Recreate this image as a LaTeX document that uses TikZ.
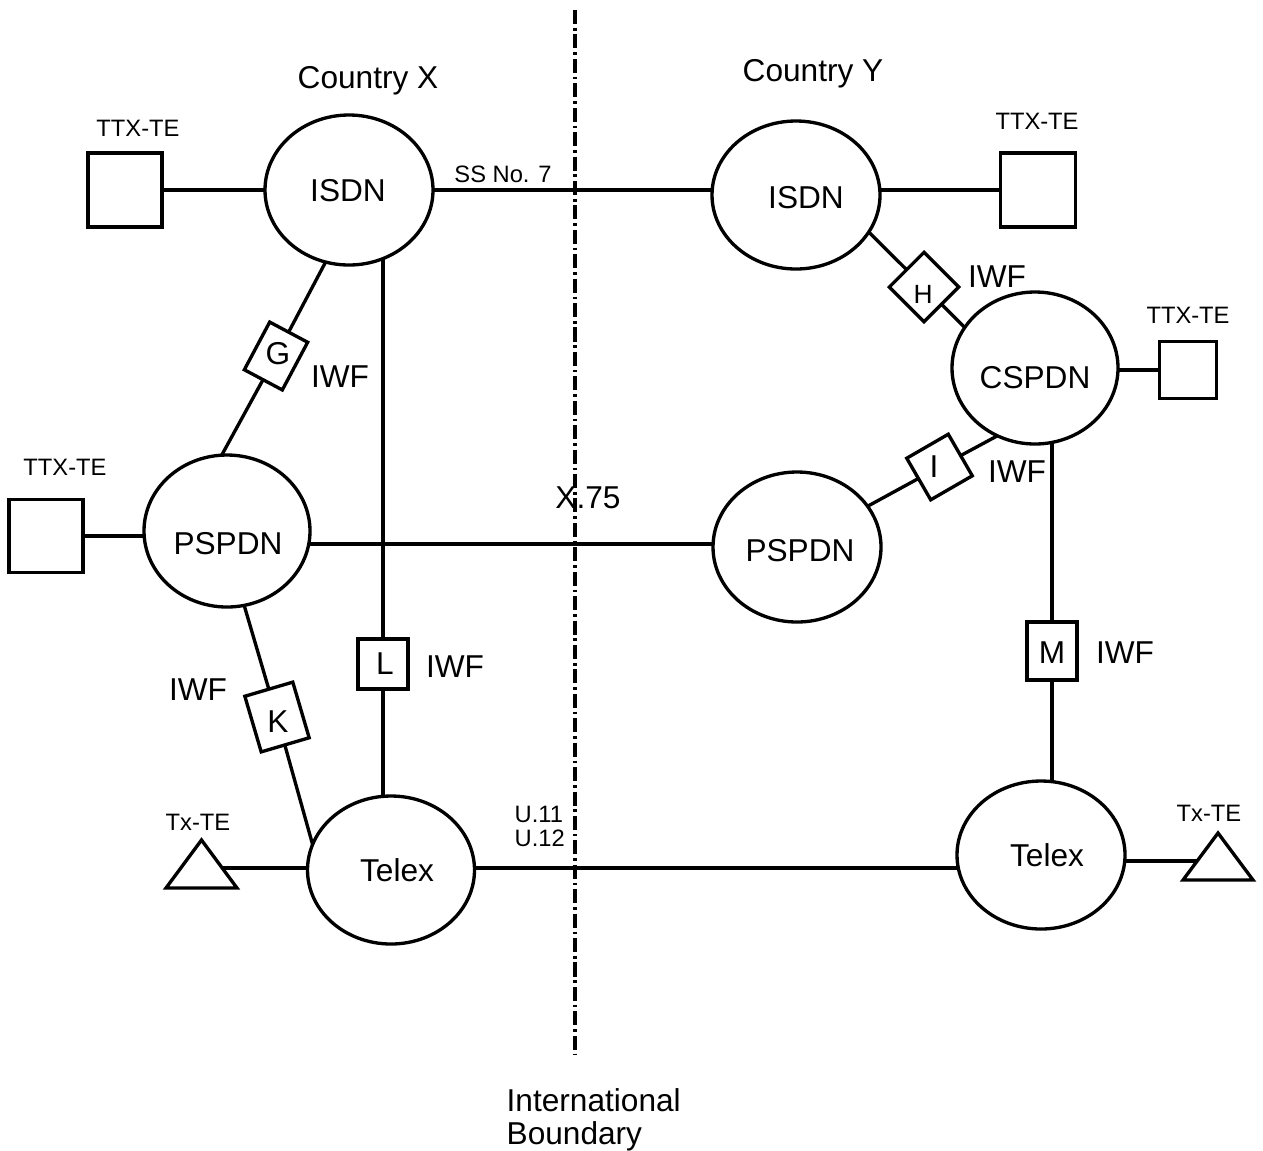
\documentclass[tikz,border=0pt]{standalone}
\usepackage{fontspec}
\setmainfont{Liberation Sans}
\usetikzlibrary{shapes.geometric,backgrounds,calc}
\begin{document}
\begin{tikzpicture}[x=0.02cm,y=-0.02cm,
  line width=1.9pt,
  net/.style 2 args={ellipse, draw, fill=white, inner sep=0pt, outer sep=0pt,
    minimum width=#1*0.02cm, minimum height=#2*0.02cm},
  term/.style 2 args={rectangle, draw, fill=white, inner sep=0pt, outer sep=0pt,
    minimum width=#1*0.02cm, minimum height=#2*0.02cm},
  tri/.style 2 args={rectangle, inner sep=0pt, outer sep=0pt,
    minimum width=#1*0.02cm, minimum height=#2*0.02cm},
  big/.style={font=\fontsize{18}{21}\selectfont, inner sep=0pt, text depth=0pt},
  mid/.style={font=\fontsize{15}{18}\selectfont, inner sep=0pt, text depth=0pt},
  small/.style={font=\fontsize{13.5}{16}\selectfont, inner sep=0pt, text depth=0pt},
  link/.style={line width=1.9pt},
  boundary/.style={line width=1.9pt, dash pattern=on 8pt off 2.2pt on 1.5pt off 2.2pt}
]
\useasboundingbox (0,0) rectangle (1263,1150);

% network clouds
\node[net={168}{150}] (isdnX) at (349,190) {};
\node[net={168}{148}] (isdnY) at (796,195) {};
\node[net={166}{152}] (cspdn) at (1035,368) {};
\node[net={166}{152}] (pspdnX) at (227,531) {};
\node[net={168}{150}] (pspdnY) at (797,547) {};
\node[net={167}{148}] (telexX) at (391,870) {};
\node[net={168}{148}] (telexY) at (1041,855) {};

\node[big] (tIsdnX) at (348,190) {ISDN};
\node[big] (tIsdnY) at (806,197) {ISDN};
\node[big] (tCspdn) at (1035,377) {CSPDN};
\node[big] (tPspdnX) at (228,543) {PSPDN};
\node[big] (tPspdnY) at (800,550) {PSPDN};
\node[big] (tTelexX) at (397,870) {Telex};
\node[big] (tTelexY) at (1047,855) {Telex};

% terminals
\node[term={74}{74}] (ttxA) at (125,190) {};
\node[term={75}{74}] (ttxB) at (1038,190) {};
\node[term={57}{57}] (ttxC) at (1188,370) {};
\node[term={74}{73}] (ttxP) at (46,536) {};
\node[small] (lA) at (138,128) {TTX-TE};
\node[small] (lB) at (1037,121) {TTX-TE};
\node[small] (lC) at (1188,315) {TTX-TE};
\node[small] (lP) at (65,467) {TTX-TE};

\node[tri={71}{48}] (txL) at (201.5,864) {};
\node[tri={70}{47}] (txR) at (1218,856.5) {};
\draw[fill=white] (txL.south west) -- (txL.north) -- (txL.south east) -- cycle;
\draw[fill=white] (txR.south west) -- (txR.north) -- (txR.south east) -- cycle;
\coordinate (txLp) at ($(txL.north)!0.583!(txL.south east)$);
\coordinate (txRp) at ($(txR.north)!0.596!(txR.south west)$);
\node[small] (lTxL) at (198,822) {Tx-TE};
\node[small] (lTxR) at (1209,813) {Tx-TE};

% interworking functions
\node[term={43}{54}, rotate=-28] (G) at (276,356) {};
\node[term={49}{49}, rotate=45] (H) at (924,287) {};
\node[term={48}{48}, rotate=30] (I) at (939.5,467) {};
\node[term={50}{58}, rotate=16.4] (K) at (277,717) {};
\node[term={50}{50}] (L) at (383,664) {};
\node[term={50}{58}] (M) at (1052,651) {};
\node[big] (tG) at (278,353) {G};
\node[mid] (tH) at (923,294) {H};
\node[big] (tI) at (934,467) {I};
\node[big] (tK) at (278,722) {K};
\node[big] (tL) at (385,664) {L};
\node[big] (tM) at (1052,653) {M};

\node[big] (iwfG) at (340,377) {IWF};
\node[big] (iwfH) at (997,277) {IWF};
\node[big] (iwfI) at (1017,472) {IWF};
\node[big] (iwfK) at (198,690) {IWF};
\node[big] (iwfL) at (455,667) {IWF};
\node[big] (iwfM) at (1125,653) {IWF};

% other labels
\node[big] (cX) at (368,77) {Country X};
\node[big] (cY) at (813,70) {Country Y};
\node[small] (ss7) at (503,174) {SS No. 7};
\node[big] (x75) at (588,498) {X.75};
\node[small, anchor=west] (u11) at (513,814) {U.11};
\node[small, anchor=west] (u12) at (513,838) {U.12};
\node[big, anchor=west] (ib1) at (505,1100) {International};
\node[big, anchor=west] (ib2) at (505,1133) {Boundary};

\coordinate (bTop) at (575,10);
\coordinate (bBot) at (575,1055);

\begin{scope}[on background layer]
  \draw[link] (ttxA.center) -- (ttxA.center -| isdnX.center);
  \draw[link] (isdnX.center) -- (isdnX.center -| isdnY.center);
  \draw[link] (ttxB.center) -- (ttxB.center -| isdnY.center);
  \draw[link] (ttxC.center) -- (ttxC.center -| cspdn.center);
  \draw[link] (ttxP.center) -- (ttxP.center -| pspdnX.center);
  \draw[link] ($(pspdnX.center)+(0,13)$) -- ($(pspdnY.center)+(0,-3)$);
  \draw[link] ($(telexX.center)+(0,-2)$) -- ($(telexY.center)+(0,13)$);
  \draw[link] (txLp) -- (txLp -| telexX.center);
  \draw[link] (txRp) -- (txRp -| telexY.center);
  \draw[link] (L.center |- isdnX.center) -- (L.center |- telexX.center);
  \draw[link] (M.center |- cspdn.center) -- (M.center |- telexY.center);
  \draw[link] (isdnX.252) -- (G.center) -- (pspdnX.94);
  \draw[link] (isdnY.333.4) -- (H.center) -- (cspdn.150);
  \draw[link] (pspdnY.30) -- (I.center) -- (cspdn.241);
  \draw[link] (pspdnX.283) -- (K.center) -- (telexX.162);
  \draw[boundary] (bTop) -- (bBot);
\end{scope}
\end{tikzpicture}
\end{document}
